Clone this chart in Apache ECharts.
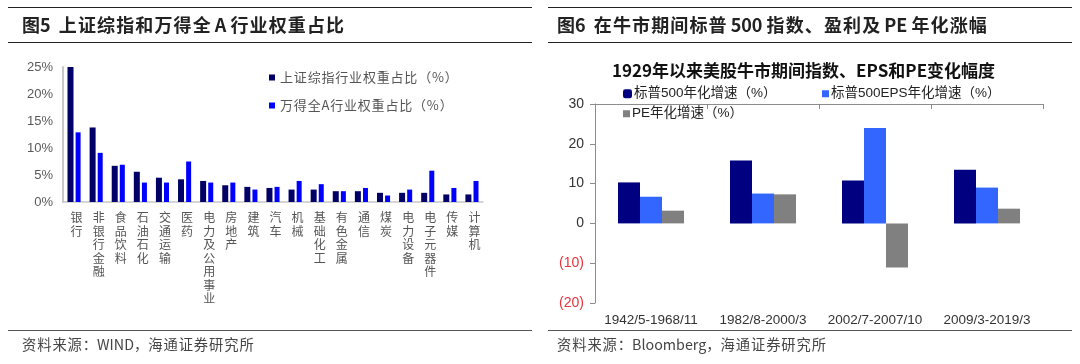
<!DOCTYPE html>
<html><head><meta charset="utf-8">
<script src="https://cdn.jsdelivr.net/npm/echarts@6/dist/echarts.min.js"></script>
<style>html,body{margin:0;padding:0;background:#fff}#c{width:1080px;height:364px}</style>
</head><body><div id="c"></div>
<script>
// Left chart data
const industries = ['银行','非银行金融','食品饮料','石油石化','交通运输','医药','电力及公用事业','房地产','建筑','汽车','机械','基础化工','有色金属','通信','煤炭','电力设备','电子元器件','传媒','计算机'];
const shWeights = [25.0,13.8,6.7,5.6,4.5,4.2,3.9,3.1,2.8,2.6,2.3,2.3,2.0,2.0,1.7,1.7,1.7,1.4,1.4];
const windWeights = [12.9,9.1,6.9,3.6,3.6,7.5,3.6,3.6,2.3,2.8,3.9,3.3,2.0,2.6,1.2,2.3,5.8,2.6,3.9];
const leftSeriesNames = ['上证综指行业权重占比（%）','万得全A行业权重占比（%）'];
const leftTicks = [0,5,10,15,20,25];

// Right chart data
const periods = ['1942/5-1968/11','1982/8-2000/3','2002/7-2007/10','2009/3-2019/3'];
const spxGrowth = [10.3,15.8,10.8,13.5];
const epsGrowth = [6.7,7.5,24.0,9.0];
const peGrowth = [3.2,7.3,-11.1,3.7];
const rightSeriesNames = ['标普500年化增速（%）','标普500EPS年化增速（%）','PE年化增速（%）'];
const rightTicks = [-20,-10,0,10,20,30];

const FONT = '"Liberation Sans", "Noto Sans CJK SC", sans-serif';
const CJK = '"Noto Sans CJK SC", "Liberation Sans", sans-serif';

function spaced(s, sp){ return s.split('').join(sp); }
const HS = '\u200A';

const chart = echarts.init(document.getElementById('c'), null, {renderer:'canvas'});

function hline(x1,x2,y,color,w){return {type:'line',shape:{x1:x1,y1:y,x2:x2,y2:y},style:{stroke:color,lineWidth:w},silent:true};}
function txt(x,y,t,size,color,weight,family){return {type:'text',x:x,y:y,style:{text:t,fontSize:size,fill:color,fontWeight:weight||'normal',fontFamily:family||CJK,verticalAlign:'middle'},silent:true};}

const option = {
  animation:false,
  backgroundColor:'#fff',
  graphic:[
    hline(8,532,7.5,'#222',1.2), hline(8,532,42.5,'#222',1),
    hline(548,1072,7.5,'#222',1.2), hline(548,1072,42.5,'#222',1),
    hline(8,532,330.5,'#555',1), hline(548,1072,330.5,'#555',1),
    txt(22,25.5,'图5'+'  '+spaced('上证综指和万得全',HS)+' A '+spaced('行业权重占比',HS),18,'#222','bold'),
    txt(557,25.5,'图6'+'  '+spaced('在牛市期间标普',HS)+' 500 '+spaced('指数、盈利及',HS)+' PE '+spaced('年化涨幅',HS),18,'#222','bold'),
    txt(22,344.5,spaced('资料来源：',HS)+'WIND，'+spaced('海通证券研究所',HS),14.3,'#444'),
    txt(557,344.5,spaced('资料来源：',HS)+'Bloomberg，'+spaced('海通证券研究所',HS),14.3,'#444'),
    txt(612,71,'1929年以来美股牛市期间指数、EPS和PE变化幅度',17,'#111','bold')
  ],
  grid:[
    {left:63,right:597,top:67,bottom:162},
    {left:595,right:37,top:104,bottom:61}
  ],
  legend:[
    {orient:'vertical',left:264,top:66,itemWidth:6,itemHeight:6,itemGap:15,icon:'rect',
     data:leftSeriesNames,textStyle:{fontSize:13,color:'#555',fontFamily:CJK},
     formatter:n=>spaced(n,HS)},
    {left:618,top:82,itemWidth:9,itemHeight:9,icon:'roundRect',
     data:[rightSeriesNames[0]],textStyle:{fontSize:13.5,color:'#222',fontFamily:FONT,padding:[0,0,0,-3]}},
    {left:817,top:82,itemWidth:7,itemHeight:7,icon:'rect',
     data:[rightSeriesNames[1]],textStyle:{fontSize:13.5,color:'#222',fontFamily:FONT,padding:[0,0,0,-3]}},
    {left:618,top:102,itemWidth:7,itemHeight:7,icon:'rect',
     data:[rightSeriesNames[2]],textStyle:{fontSize:13.5,color:'#222',fontFamily:FONT,padding:[0,0,0,-3]}}
  ],
  xAxis:[
    {type:'category',gridIndex:0,data:industries,
     axisLine:{lineStyle:{color:'#c8c8c8',width:1.5}},axisTick:{show:false},
     axisLabel:{interval:0,margin:9,fontSize:12,lineHeight:13.5,color:'#555',fontFamily:CJK,verticalAlign:'top',
       padding:[0,0,0,5],formatter:v=>v.split('').join('\n')}},
    {type:'category',gridIndex:1,data:periods,position:'bottom',
     axisLine:{show:false},axisTick:{show:false},
     axisLabel:{interval:0,margin:11,fontSize:13.5,color:'#333',fontFamily:FONT}},
    {type:'category',gridIndex:1,data:periods,position:'top',
     axisLine:{onZero:true,lineStyle:{color:'#8c8c8c',width:1}},
     axisTick:{show:true,inside:true,length:5,lineStyle:{color:'#8c8c8c'}},
     axisLabel:{show:false}}
  ],
  yAxis:[
    {type:'value',gridIndex:0,min:leftTicks[0],max:leftTicks[leftTicks.length-1],interval:5,
     axisLine:{show:true,lineStyle:{color:'#c8c8c8',width:2}},axisTick:{show:false},splitLine:{show:false},
     axisLabel:{formatter:'{value}%',fontSize:13,color:'#595959',fontFamily:FONT,margin:10}},
    {type:'value',gridIndex:1,min:rightTicks[0],max:rightTicks[rightTicks.length-1],interval:10,
     axisLine:{show:true,lineStyle:{color:'#8c8c8c',width:1}},
     axisTick:{show:true,length:5,lineStyle:{color:'#8c8c8c'}},splitLine:{show:false},
     axisLabel:{fontSize:14,fontFamily:FONT,margin:11,
       formatter:v=>v<0?'('+(-v)+')':String(v),
       color:v=>(Number(v)<0?'#e8323c':'#333')}}
  ],
  series:[
    {name:leftSeriesNames[0],type:'bar',xAxisIndex:0,yAxisIndex:0,data:shWeights,barWidth:6,barGap:'35%',itemStyle:{color:'#000066'}},
    {name:leftSeriesNames[1],type:'bar',xAxisIndex:0,yAxisIndex:0,data:windWeights,barWidth:5,itemStyle:{color:'#0000ff'}},
    {name:rightSeriesNames[0],type:'bar',xAxisIndex:1,yAxisIndex:1,data:spxGrowth,barWidth:22,barGap:'0%',itemStyle:{color:'#000080'}},
    {name:rightSeriesNames[1],type:'bar',xAxisIndex:1,yAxisIndex:1,data:epsGrowth,barWidth:22,barGap:'0%',itemStyle:{color:'#3366ff'}},
    {name:rightSeriesNames[2],type:'bar',xAxisIndex:1,yAxisIndex:1,data:peGrowth,barWidth:22,barGap:'0%',itemStyle:{color:'#808080'}}
  ]
};
chart.setOption(option);
</script></body></html>
